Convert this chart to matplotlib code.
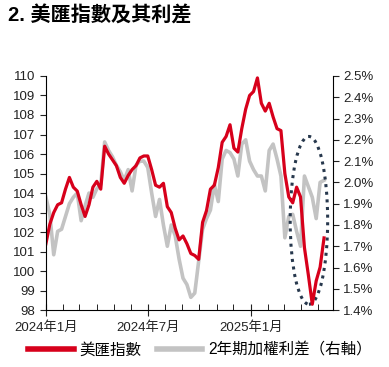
import numpy as np
import pandas as pd
import matplotlib
matplotlib.use("Agg")
import matplotlib.pyplot as plt
import matplotlib.dates as mdates
from matplotlib.patches import Ellipse
from matplotlib.ticker import FuncFormatter, MultipleLocator

plt.rcParams['font.family'] = ['Liberation Sans', 'Noto Sans CJK TC']

# weekly readings, 2024-01-01 .. 2025-05-12
start_date = '2024-01-01'
dxy = [101.4, 102.4, 103.0, 103.4, 103.5, 104.2, 104.8, 104.3, 104.1, 103.4,
       102.8, 103.4, 104.3, 104.6, 104.2, 106.4, 106.0, 105.7, 105.4, 104.8,
       104.5, 104.9, 105.2, 105.4, 105.8, 105.9, 105.9, 105.2, 104.4, 104.3,
       104.5, 103.3, 103.0, 102.2, 101.6, 101.8, 101.4, 100.9, 100.8, 100.6,
       102.5, 103.1, 104.2, 104.4, 105.3, 106.6, 106.9, 107.5, 106.3, 106.1,
       107.3, 108.3, 109.0, 109.2, 109.9, 108.6, 108.2, 108.6, 107.9, 107.3,
       107.2, 105.0, 103.8, 103.5, 104.3, 103.8, 101.2, 99.8, 98.3, 99.5,
       100.2, 101.7]
spread = [1.93, 1.85, 1.66, 1.77, 1.78, 1.84, 1.90, 1.93, 1.95, 1.82,
          1.89, 1.95, 1.93, 1.97, 1.99, 2.19, 2.15, 2.12, 2.08, 2.05,
          2.01, 2.06, 1.96, 2.08, 2.10, 2.10, 2.07, 1.95, 1.84, 1.92,
          1.80, 1.70, 1.80, 1.75, 1.64, 1.55, 1.52, 1.46, 1.48, 1.63,
          1.78, 1.83, 1.87, 1.99, 1.91, 2.11, 2.15, 2.14, 2.11, 2.03,
          2.18, 2.20, 2.10, 2.06, 2.03, 2.03, 1.96, 2.15, 2.18, 2.11,
          2.03, 1.74, 1.84, 1.85, 1.77, 1.70, 2.03, 1.98, 1.93, 1.83,
          2.00, 2.01]
dates = pd.date_range(start_date, periods=len(dxy), freq='7D')

red = '#d7001b'
grey = '#c3c3c3'

fig = plt.figure(figsize=(3.89, 3.67), dpi=100)
ax = fig.add_axes([0.118, 0.155, 0.738, 0.638])
ax2 = ax.twinx()

l1, = ax.plot(dates, dxy, color=red, lw=2.3, label='美匯指數')
l2, = ax2.plot(dates, spread, color=grey, lw=2.6, label='2年期加權利差（右軸）')
ax.set_zorder(ax2.get_zorder() + 1)
ax.patch.set_visible(False)

# dotted circle around the recent divergence
cx = mdates.date2num(pd.Timestamp('2025-04-15'))
ell = Ellipse((cx, 102.6), width=67, height=8.6, fill=False,
              ls=(0, (1, 1.5)), lw=2.2, color='#27384d')
ax.add_patch(ell)

ax.set_xlim(pd.Timestamp('2024-01-01'), pd.Timestamp('2025-05-28'))
ax.set_ylim(98, 110)
ax2.set_ylim(1.4, 2.5)
ax.yaxis.set_major_locator(MultipleLocator(1))
ax2.yaxis.set_major_locator(MultipleLocator(0.1))
ax2.yaxis.set_major_formatter(FuncFormatter(lambda v, p: f'{v:.1f}%'))

ax.xaxis.set_major_locator(mdates.MonthLocator(bymonth=[1, 7]))
ax.xaxis.set_minor_locator(mdates.MonthLocator())
ax.xaxis.set_major_formatter(FuncFormatter(
    lambda v, p: f'{mdates.num2date(v).year}年{mdates.num2date(v).month}月'))

for a in (ax, ax2):
    a.spines['top'].set_visible(False)
    a.tick_params(labelsize=9.5, colors='#222222', length=4, width=0.8)
ax.spines['right'].set_visible(False)
ax2.spines['left'].set_visible(False)
ax2.spines['bottom'].set_visible(False)
ax.tick_params(axis='x', which='major', direction='inout', length=8, pad=4)
ax.tick_params(axis='x', which='minor', direction='in', length=4)

fig.text(0.02, 0.957, '2. 美匯指數及其利差', fontsize=14.5, fontweight='bold',
         va='center', ha='left')

fig.legend(handles=[l1, l2], loc='lower center', bbox_to_anchor=(0.515, -0.012),
           ncol=2, frameon=False, fontsize=11.2, handlelength=2.9,
           columnspacing=1.0, handletextpad=0.4)
for h in fig.legends[0].get_lines():
    h.set_linewidth(4)

fig.savefig('out.png', dpi=100)
